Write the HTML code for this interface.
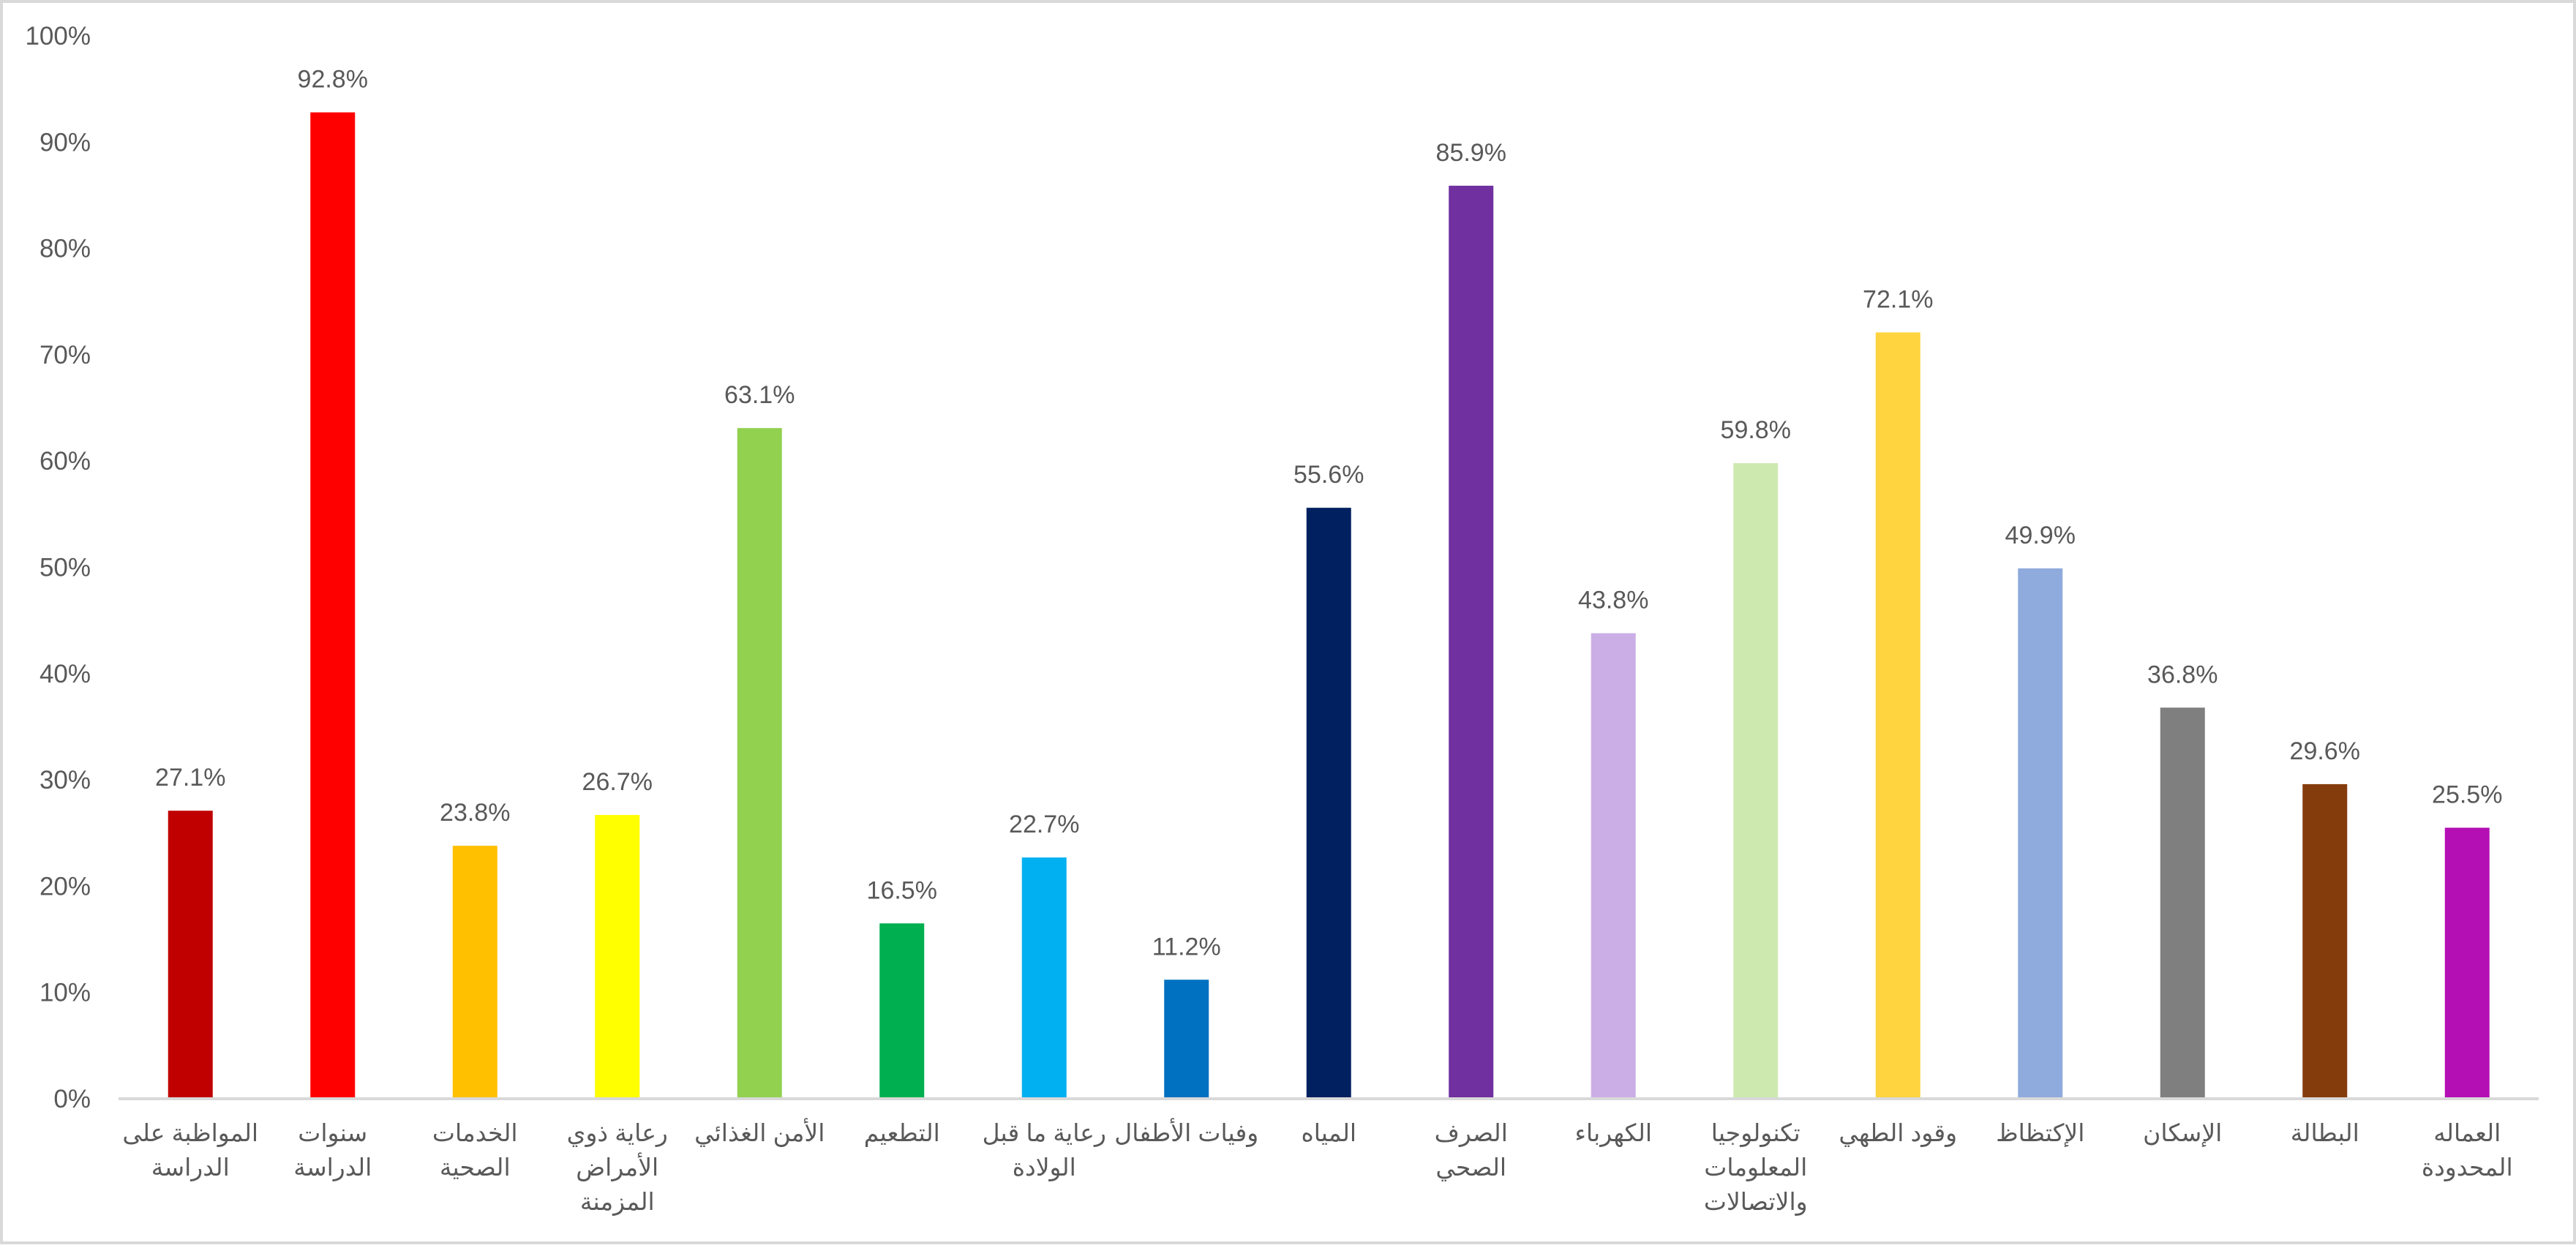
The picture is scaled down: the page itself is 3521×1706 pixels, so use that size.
<!DOCTYPE html>
<html><head><meta charset="utf-8"><style>
html,body{margin:0;padding:0;background:#fff;}
svg text{font-family:"Liberation Sans","DejaVu Sans",sans-serif;fill:#595959;}
</style></head><body>
<svg id="chart" width="3521" height="1701" xmlns="http://www.w3.org/2000/svg">
<rect x="2" y="2" width="3517" height="1697" fill="#fff" stroke="#d9d9d9" stroke-width="4"/>
<g id="yticks"></g>
<g id="bars"></g>
<line x1="162" y1="1502" x2="3470" y2="1502" stroke="#d9d9d9" stroke-width="4"/>
<g id="xlabels"></g>
</svg>
<script>
const categories = [
 ["المواظبة على","الدراسة"],["سنوات","الدراسة"],["الخدمات","الصحية"],["رعاية ذوي","الأمراض","المزمنة"],
 ["الأمن الغذائي"],["التطعيم"],["رعاية ما قبل","الولادة"],["وفيات الأطفال"],["المياه"],["الصرف","الصحي"],
 ["الكهرباء"],["تكنولوجيا","المعلومات","والاتصالات"],["وقود الطهي"],["الإكتظاظ"],["الإسكان"],["البطالة"],["العماله","المحدودة"]
];
const values = [27.1,92.8,23.8,26.7,63.1,16.5,22.7,11.2,55.6,85.9,43.8,59.8,72.1,49.9,36.8,29.6,25.5];
const colors = ["#c00000","#ff0000","#ffc000","#ffff00","#92d050","#00b050","#00b0f0","#0070c0","#002060","#7030a0","#cbaee6","#cde9b0","#ffd43f","#8faadc","#7f7f7f","#843c0c","#b40fb4"];
const yTicks = [0,10,20,30,40,50,60,70,80,90,100];
const NS="http://www.w3.org/2000/svg";
const y0=1502, y100=49, xStart=163, band=194.5, barW=61;
function yScale(v){return y0-(y0-y100)*v/100;}
function xCenter(i){return xStart+band*(i+0.5);}
const yt=document.getElementById('yticks');
yTicks.forEach(t=>{
 const e=document.createElementNS(NS,'text');
 
 
 e.setAttribute('x',124);e.setAttribute('y',yScale(t)+12);
 e.setAttribute('text-anchor','end');e.setAttribute('font-size','35');
 e.textContent=t+'%';yt.appendChild(e);
});
const bg=document.getElementById('bars'), xl=document.getElementById('xlabels');
values.forEach((v,i)=>{
 const cx=xCenter(i);
 const r=document.createElementNS(NS,'rect');
 
 
 r.setAttribute('x',cx-barW/2);r.setAttribute('y',yScale(v));
 r.setAttribute('width',barW);r.setAttribute('height',y0-yScale(v));
 r.setAttribute('fill',colors[i]);bg.appendChild(r);
 const l=document.createElementNS(NS,'text');
 
 
 l.setAttribute('x',cx);l.setAttribute('y',yScale(v)-34);
 l.setAttribute('text-anchor','middle');l.setAttribute('font-size','34');
 l.textContent=v.toFixed(1)+'%';bg.appendChild(l);
 categories[i].forEach((line,j)=>{
  const t=document.createElementNS(NS,'text');
  
  
  t.setAttribute('x',cx);t.setAttribute('y',1560+j*47);
  t.setAttribute('text-anchor','middle');t.setAttribute('direction','rtl');
  t.setAttribute('font-size','33');
  t.textContent=line;xl.appendChild(t);
 });
});
</script>
</body></html>
